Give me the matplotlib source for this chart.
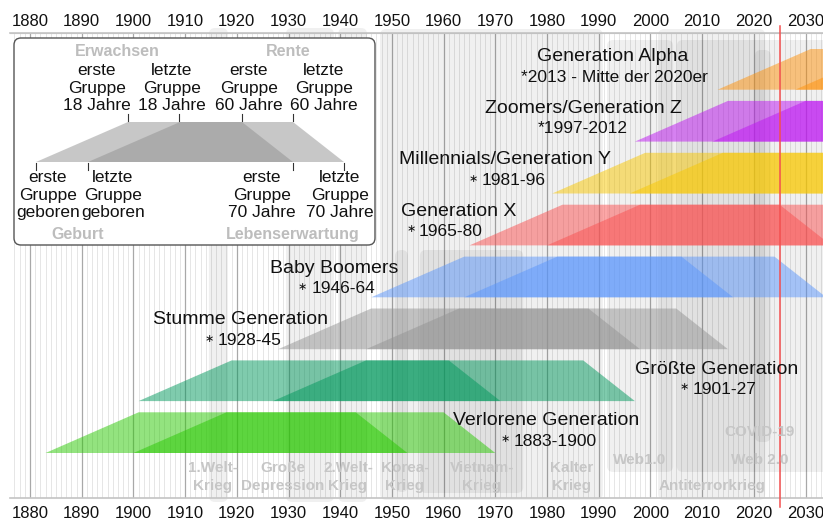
import matplotlib
matplotlib.use('Agg')
import matplotlib.pyplot as plt
from matplotlib.patches import FancyBboxPatch

plt.rcParams['font.family'] = ['Liberation Sans', 'DejaVu Sans']

# ---------------- data ----------------
gen_names = ["Generation Alpha", "Zoomers/Generation Z", "Millennials/Generation Y",
             "Generation X", "Baby Boomers", "Stumme Generation",
             "Größte Generation", "Verlorene Generation"]
gen_marks = ["", "", "\u2217", "\u2217", "\u2217", "\u2217", "\u2217", "\u2217"]
gen_spans = ["*2013 - Mitte der 2020er", "*1997-2012", "1981-96", "1965-80",
             "1946-64", "1928-45", "1901-27", "1883-1900"]
first_birth = [2013, 1997, 1981, 1965, 1946, 1928, 1901, 1883]
last_birth = [2028, 2012, 1996, 1980, 1964, 1945, 1927, 1900]
gen_colors = ['#ff920a', '#be14f2', '#f8c800', '#fa5050',
              '#5a96fc', '#939393', '#00985c', '#28c800']
AGE_ADULT, AGE_RETIRE, AGE_DEATH = 18, 60, 70

event_names = ["1.Welt-\nKrieg", "Große\nDepression", "2.Welt-\nKrieg", "Korea-\nKrieg",
               "Vietnam-\nKrieg", "Kalter\nKrieg", "Web1.0", "Web 2.0",
               "Antiterrorkrieg", "COVID-19"]
event_start = [1914.6, 1929.5, 1939.6, 1950.6, 1955.4, 1947.7, 1991.6, 2005.1, 2001.5, 2020.2]
event_end = [1918.3, 1938.8, 1945.2, 1953.1, 1975.4, 1990.8, 2004.4, 2040.0, 2022.2, 2023.3]

tick_years = list(range(1880, 2031, 10))
current_year = 2025

# ---------------- layout (pixels) ----------------
W, H = 823, 522
PX_PER_YR = 5.17
X0_PX, YR0 = 30, 1880
AX_L, AX_R, AX_T, AX_B = 10, 823, 33, 498
XL = YR0 + (AX_L - X0_PX) / PX_PER_YR
XR = YR0 + (AX_R - X0_PX) / PX_PER_YR

band_top0, band_step, band_h = 49, 51.9, 40.7
event_vert = [(28, 502), (28, 502), (28, 502), (250, 492), (250, 493),
              (29, 500), (40, 472), (40, 472), (29, 500), (50, 442)]
# (x centre, baseline of last line)
event_lbl = [(213, 490), (283, 490), (348, 490), (405, 490), (482, 490),
             (572, 490), (640, 464), (760, 464), (712, 490), (760, 436)]
gen_title_pos = [(613, 61), (583, 113), (505, 164), (459, 216),
                 (334, 273), (241, 324), (717, 374), (546, 425)]
# (mark x, text end x, baseline)
gen_span_pos = [(None, 708, 82), (None, 628, 133), (473, 546, 185), (411, 483, 236),
                (302, 375, 293), (209, 282, 345), (684, 757, 394), (505, 597, 446)]

fig = plt.figure(figsize=(W / 100, H / 100), dpi=100)
ax = fig.add_axes([AX_L / W, (H - AX_B) / H, (AX_R - AX_L) / W, (AX_B - AX_T) / H])
ax.set_xlim(XL, XR)
ax.set_ylim(AX_B, AX_T)
ax.set_yticks([])
for s in ['left', 'right']:
    ax.spines[s].set_visible(False)
for s in ['top', 'bottom']:
    ax.spines[s].set_color('#c4c4c4')
    ax.spines[s].set_linewidth(1.2)

# year grid lines
for y in range(1876, 2034):
    dec = (y % 10 == 0)
    ax.axvline(y, color='#a8a8a8' if dec else '#e2e2e2', lw=0.9 if dec else 0.6, zorder=0)

# event boxes
for (s, e), (t, b) in zip(zip(event_start, event_end), event_vert):
    p = FancyBboxPatch((s, t), e - s, b - t,
                       boxstyle='round,pad=0,rounding_size=1.2',
                       mutation_aspect=PX_PER_YR,
                       fc=(0, 0, 0, 0.06), ec='none', zorder=1, clip_on=False)
    ax.add_patch(p)

# generation bands
for i, (b0, b1, c) in enumerate(zip(first_birth, last_birth, gen_colors)):
    top = band_top0 + i * band_step
    bot = top + band_h
    for b in (b0, b1):
        xs = [b, b + AGE_ADULT, b + AGE_RETIRE, b + AGE_DEATH]
        ys = [bot, top, top, bot]
        ax.fill(xs, ys, color=c, alpha=0.5, lw=0, zorder=2)

# current year line
ax.plot([current_year, current_year], [26, 507], color='#f45050', lw=1.1,
        zorder=5, clip_on=False)

# ticks
ax.set_xticks(tick_years)
ax.tick_params(axis='x', length=0, labelsize=12, pad=6, labelcolor='#111111')
sec = ax.secondary_xaxis('top')
sec.set_xticks(tick_years)
sec.tick_params(axis='x', length=0, labelsize=12, pad=3, labelcolor='#111111')
sec.spines['top'].set_color('#c4c4c4')

# ---------------- overlay (pixel coordinates) ----------------
lax = fig.add_axes([0, 0, 1, 1], zorder=10)
lax.set_xlim(0, W)
lax.set_ylim(H, 0)
lax.axis('off')
lax.patch.set_alpha(0)

ev_kw = dict(ha='center', va='baseline', fontsize=11, fontweight='bold',
             color='#c6c6c6', linespacing=1.4)
for name, (x, y) in zip(event_names, event_lbl):
    lax.text(x, y, name, **ev_kw)

for name, mark, span, (tx, ty), (mx, ex, sy) in zip(gen_names, gen_marks, gen_spans,
                                                    gen_title_pos, gen_span_pos):
    lax.text(tx, ty, name, ha='center', va='baseline', fontsize=14, color='#111111')
    lax.text(ex, sy, span, ha='right', va='baseline', fontsize=12.5, color='#111111')
    if mark:
        lax.text(mx, sy - 3.5, mark, ha='center', va='baseline', fontsize=8,
                 color='#111111', family=['DejaVu Sans'])

# legend box
lb = FancyBboxPatch((14, 38), 361, 207, boxstyle='round,pad=0,rounding_size=7',
                    fc='white', ec='#555555', lw=1.0)
lax.add_patch(lb)
lg_top, lg_bot = 122, 162
for xs in ([36, 128, 242, 293], [88, 180, 293, 344]):
    lax.fill(xs, [lg_bot, lg_top, lg_top, lg_bot], color='#919191', alpha=0.5, lw=0)
for x in [128, 179, 242, 293]:
    lax.plot([x, x], [114, 121], color='#333333', lw=0.8)
for x in [36, 88, 293, 344]:
    lax.plot([x, x], [163, 170], color='#333333', lw=0.8)

top_lbls = ["erste\nGruppe\n18 Jahre", "letzte\nGruppe\n18 Jahre",
            "erste\nGruppe\n60 Jahre", "letzte\nGruppe\n60 Jahre"]
bot_lbls = ["erste\nGruppe\ngeboren", "letzte\nGruppe\ngeboren",
            "erste\nGruppe\n70 Jahre", "letzte\nGruppe\n70 Jahre"]
for t, x in zip(top_lbls, [97, 172, 249, 324]):
    lax.text(x, 110, t, ha='center', va='baseline', fontsize=12.5, color='#111111',
             linespacing=1.2)
for t, x in zip(bot_lbls, [48, 113, 262, 340]):
    lax.text(x, 217, t, ha='center', va='baseline', fontsize=12.5, color='#111111',
             linespacing=1.2)
gkw = dict(ha='center', va='baseline', fontsize=11.5, fontweight='bold', color='#bdbdbd')
lax.text(117, 56, "Erwachsen", **gkw)
lax.text(288, 56, "Rente", **gkw)
lax.text(78, 239, "Geburt", **gkw)
lax.text(293, 239, "Lebenserwartung", **gkw)

fig.savefig('out.png', dpi=100)
